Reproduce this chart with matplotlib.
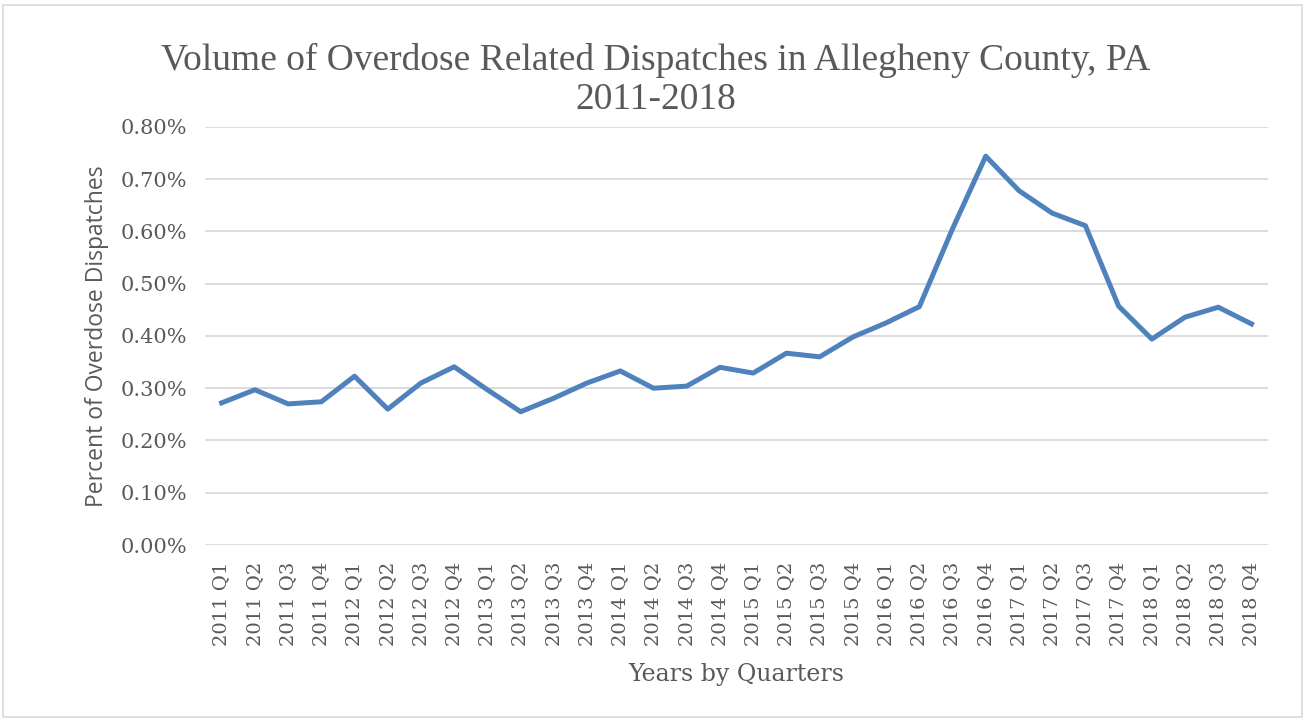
import numpy as np
import matplotlib.pyplot as plt
from matplotlib.patches import Rectangle

quarters = [f"{y} Q{q}" for y in range(2011, 2019) for q in range(1, 5)]
# percent of dispatches that were overdose related
pct_overdose = [0.272, 0.297, 0.270, 0.274, 0.323, 0.260, 0.310, 0.341,
                0.297, 0.255, 0.281, 0.310, 0.333, 0.300, 0.304, 0.340,
                0.329, 0.367, 0.360, 0.398, 0.425, 0.456, 0.605, 0.744,
                0.678, 0.635, 0.611, 0.457, 0.394, 0.436, 0.455, 0.423]
y_ticks = [0.0, 0.1, 0.2, 0.3, 0.4, 0.5, 0.6, 0.7, 0.8]

serif = ['DejaVu Serif']
title_font = ['Liberation Serif', 'DejaVu Serif']
grey = '#595959'

fig = plt.figure(figsize=(13.06, 7.19), dpi=100)
fig.patches.append(Rectangle((0.002, 0.003), 0.995, 0.99, transform=fig.transFigure,
                             fill=False, edgecolor='#D9D9D9', linewidth=1.2))

ax = fig.add_axes([0.157, 0.242, 0.814, 0.5815])
x = np.arange(len(quarters))
ax.plot(x, pct_overdose, color='#4F81BD', linewidth=3.6, solid_joinstyle='round')

ax.set_xlim(-0.5, len(quarters) - 0.5)
ax.set_ylim(0, 0.8)
ax.set_yticks(y_ticks)
ax.set_yticklabels([f"{v:.2f}%" for v in y_ticks], fontfamily=serif, fontsize=15, color=grey)
ax.set_xticks(x)
ax.set_xticklabels(quarters, rotation=90, fontfamily=serif, fontsize=14, color=grey)
ax.tick_params(axis='y', length=0, pad=13)
ax.tick_params(axis='x', length=0, pad=12)
ax.grid(axis='y', color='#D9D9D9', linewidth=1.3)
ax.set_axisbelow(True)
for s in ['top', 'right', 'left', 'bottom']:
    ax.spines[s].set_visible(False)

ax.set_ylabel('Percent of Overdose Dispatches', fontfamily=['Open Sans', 'DejaVu Sans'],
              fontsize=16.5, color=grey, labelpad=8)
ax.set_xlabel('Years by Quarters', fontfamily=serif, fontsize=17, color=grey, labelpad=12)

fig.text(0.502, 0.889, 'Volume of Overdose Related Dispatches in Allegheny County, PA\n2011-2018',
         ha='center', va='center', fontfamily=title_font, fontsize=27, color=grey, linespacing=1.15)

fig.savefig('out.png', dpi=100)
